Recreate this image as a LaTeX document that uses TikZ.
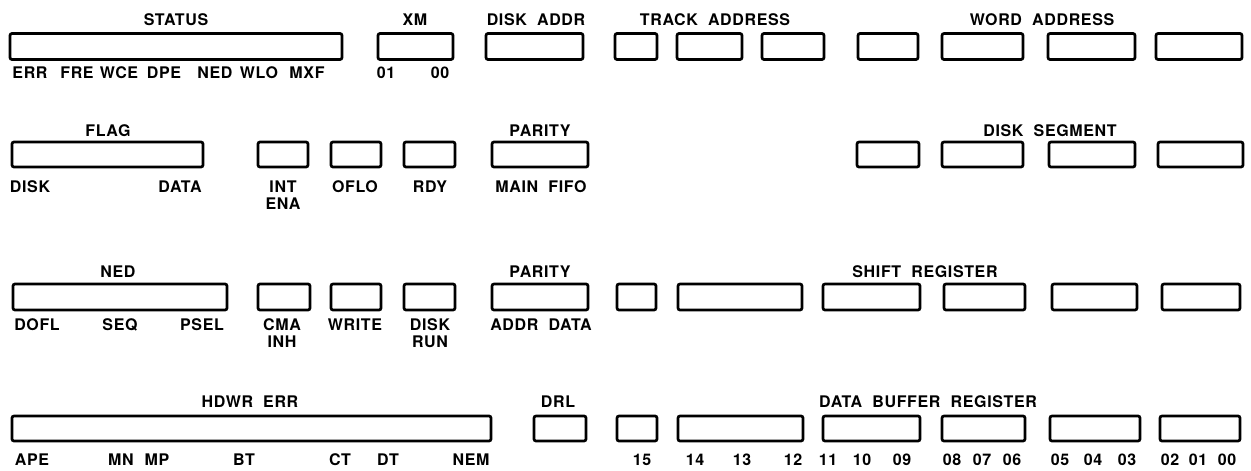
\documentclass[tikz,border=0pt]{standalone}
\usepackage{fontspec}
\setmainfont{TeX Gyre Heros}[LetterSpace=4, WordSpace=2]

\begin{document}
\begin{tikzpicture}[x=1pt, y=-1pt,
  every node/.style={font=\fontsize{16}{17}\selectfont\bfseries, inner sep=0pt},
  lbl/.style={text height=11.5pt, text depth=0pt},
  regbox/.style={draw, line width=2.7pt, rounded corners=2pt, minimum height=26pt}]
\useasboundingbox (0,0) rectangle (1251,471);

% row 1
\node[regbox, minimum width=332pt] (status) at (176,46.5) {};
\node[regbox, minimum width=75pt] (xm) at (415.5,46.5) {};
\node[regbox, minimum width=97pt] (diskaddr) at (534.5,46.5) {};
\node[regbox, minimum width=42pt] (tracka) at (636,46.5) {};
\node[regbox, minimum width=65pt] (trackb) at (709.5,46.5) {};
\node[regbox, minimum width=62pt] (trackc) at (793,46.5) {};
\node[regbox, minimum width=60pt] (worda) at (888,46.5) {};
\node[regbox, minimum width=81pt] (wordb) at (982.5,46.5) {};
\node[regbox, minimum width=87pt] (wordc) at (1091.5,46.5) {};
\node[regbox, minimum width=86pt] (wordd) at (1199,46.5) {};
\node[lbl] (lstatus) at (176,20) {STATUS};
\node[lbl] (lxm) at (415,20) {XM};
\node[lbl] (ldiskaddr) at (536,20) {DISK ADDR};
\node[lbl] (ltrack) at (715,20) {TRACK ADDRESS};
\node[lbl] (lword) at (1042,20) {WORD ADDRESS};
\node[lbl] (lerr) at (30,73) {ERR};
\node[lbl] (lfre) at (77,73) {FRE};
\node[lbl] (lwce) at (119,73) {WCE};
\node[lbl] (ldpe) at (164,73) {DPE};
\node[lbl] (lned) at (215,73) {NED};
\node[lbl] (lwlo) at (259,73) {WLO};
\node[lbl] (lmxf) at (307,73) {MXF};
\node[lbl] (lxma) at (386,73) {01};
\node[lbl] (lxmb) at (440,73) {00};

% row 2
\node[regbox, minimum width=191pt, minimum height=25pt] (flag) at (107.5,154.5) {};
\node[regbox, minimum width=50pt, minimum height=25pt] (intena) at (283,154.5) {};
\node[regbox, minimum width=50pt, minimum height=25pt] (oflo) at (356,154.5) {};
\node[regbox, minimum width=51pt, minimum height=25pt] (rdy) at (429.5,154.5) {};
\node[regbox, minimum width=96pt, minimum height=25pt] (mparity) at (540,154.5) {};
\node[regbox, minimum width=62pt, minimum height=25pt] (sega) at (888,154.5) {};
\node[regbox, minimum width=81pt, minimum height=25pt] (segb) at (982.5,154.5) {};
\node[regbox, minimum width=86pt, minimum height=25pt] (segc) at (1092,154.5) {};
\node[regbox, minimum width=85pt, minimum height=25pt] (segd) at (1200.5,154.5) {};
\node[lbl] (lflag) at (108,130.5) {FLAG};
\node[lbl] (lmparity) at (540,130.5) {PARITY};
\node[lbl] (lseg) at (1050,130.5) {DISK SEGMENT};
\node[lbl] (ldisk) at (30,187) {DISK};
\node[lbl] (ldata) at (180,187) {DATA};
\node[lbl] (lint) at (283,187) {INT};
\node[lbl] (lena) at (283,203.5) {ENA};
\node[lbl] (loflo) at (355,187) {OFLO};
\node[lbl] (lrdy) at (430,187) {RDY};
\node[lbl] (lmain) at (541,187) {MAIN FIFO};

% row 3
\node[regbox, minimum width=214pt] (ned) at (120,297) {};
\node[regbox, minimum width=52pt] (cmainh) at (284,297) {};
\node[regbox, minimum width=50pt] (write) at (356,297) {};
\node[regbox, minimum width=51pt] (diskrun) at (429.5,297) {};
\node[regbox, minimum width=96pt] (aparity) at (540,297) {};
\node[regbox, minimum width=39pt] (shifta) at (636.5,297) {};
\node[regbox, minimum width=124pt] (shiftb) at (740,297) {};
\node[regbox, minimum width=97pt] (shiftc) at (871.5,297) {};
\node[regbox, minimum width=81pt] (shiftd) at (984.5,297) {};
\node[regbox, minimum width=85pt] (shifte) at (1094.5,297) {};
\node[regbox, minimum width=78pt] (shiftf) at (1201,297) {};
\node[lbl] (lnedreg) at (118,272) {NED};
\node[lbl] (laparity) at (540,272) {PARITY};
\node[lbl] (lshift) at (925,272) {SHIFT REGISTER};
\node[lbl] (ldofl) at (37,325) {DOFL};
\node[lbl] (lseq) at (120,325) {SEQ};
\node[lbl] (lpsel) at (202,325) {PSEL};
\node[lbl] (lcma) at (282,325) {CMA};
\node[lbl] (linh) at (282,341.5) {INH};
\node[lbl] (lwrite) at (355,325) {WRITE};
\node[lbl] (ldiskr) at (430,325) {DISK};
\node[lbl] (lrun) at (430,341.5) {RUN};
\node[lbl] (laddr) at (541,325) {ADDR DATA};

% row 4
\node[regbox, minimum width=479pt, minimum height=25pt] (hdwr) at (251.5,428.5) {};
\node[regbox, minimum width=52pt, minimum height=25pt] (drl) at (560,428.5) {};
\node[regbox, minimum width=40pt, minimum height=25pt] (dba) at (637,428.5) {};
\node[regbox, minimum width=125pt, minimum height=25pt] (dbb) at (740.5,428.5) {};
\node[regbox, minimum width=97pt, minimum height=25pt] (dbc) at (871.5,428.5) {};
\node[regbox, minimum width=83pt, minimum height=25pt] (dbd) at (983.5,428.5) {};
\node[regbox, minimum width=90pt, minimum height=25pt] (dbe) at (1095,428.5) {};
\node[regbox, minimum width=80pt, minimum height=25pt] (dbf) at (1200,428.5) {};
\node[lbl] (lhdwr) at (250,402) {HDWR ERR};
\node[lbl] (ldrl) at (558,402) {DRL};
\node[lbl] (ldb) at (928,402) {DATA BUFFER REGISTER};
\node[lbl] (lape) at (32,460) {APE};
\node[lbl] (lmn) at (121,460) {MN};
\node[lbl] (lmp) at (157,460) {MP};
\node[lbl] (lbt) at (244,460) {BT};
\node[lbl] (lct) at (340,460) {CT};
\node[lbl] (ldt) at (388,460) {DT};
\node[lbl] (lnem) at (471,460) {NEM};
\node[lbl] (lbxv) at (642,460) {15};
\node[lbl] (lbxiv) at (695,460) {14};
\node[lbl] (lbxiii) at (742,460) {13};
\node[lbl] (lbxii) at (793,460) {12};
\node[lbl] (lbxi) at (828,460) {11};
\node[lbl] (lbx) at (862,460) {10};
\node[lbl] (lbix) at (902,460) {09};
\node[lbl] (lbviii) at (952,460) {08};
\node[lbl] (lbvii) at (982,460) {07};
\node[lbl] (lbvi) at (1012,460) {06};
\node[lbl] (lbv) at (1060,460) {05};
\node[lbl] (lbiv) at (1093,460) {04};
\node[lbl] (lbiii) at (1127,460) {03};
\node[lbl] (lbii) at (1170,460) {02};
\node[lbl] (lbi) at (1198,460) {01};
\node[lbl] (lbo) at (1227,460) {00};
\end{tikzpicture}
\end{document}
